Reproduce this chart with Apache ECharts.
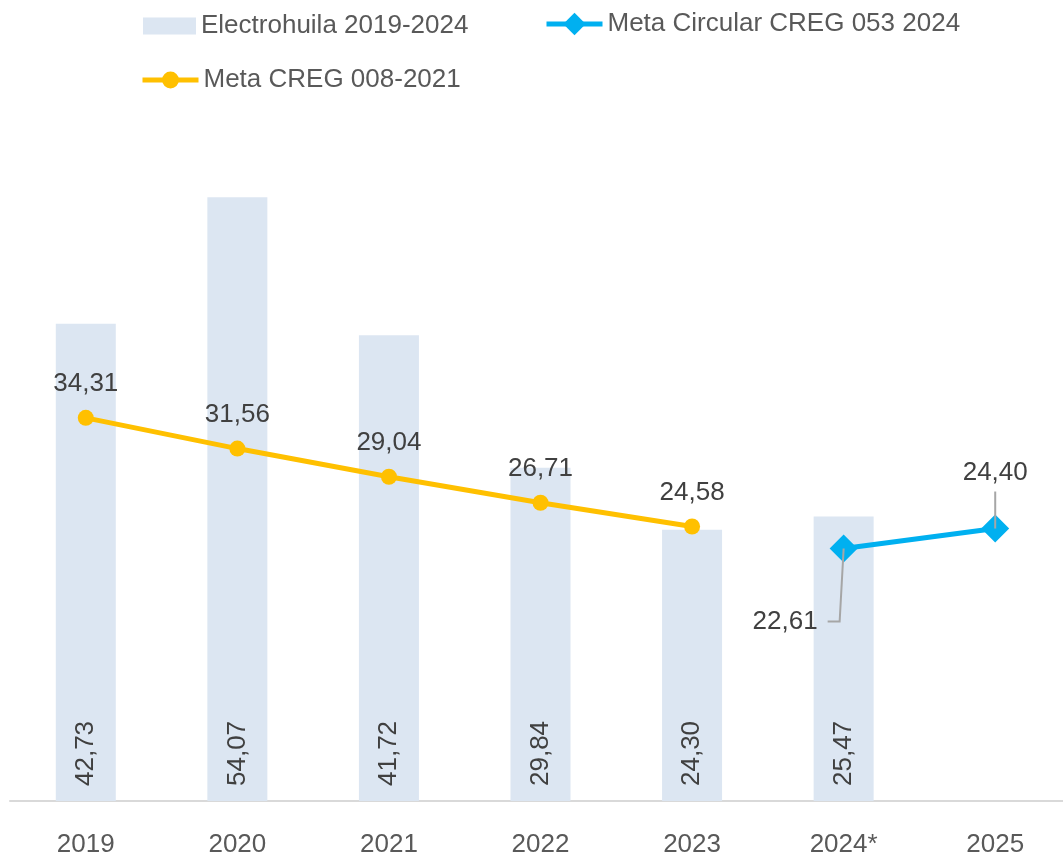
<!DOCTYPE html>
<html>
<head>
<meta charset="utf-8">
<script src="https://cdn.jsdelivr.net/npm/echarts@6/dist/echarts.min.js"></script>
<style>
  html, body { margin: 0; padding: 0; background: #fff; }
  #chart { width: 1063px; height: 858px; }
</style>
</head>
<body>
<div id="chart"></div>
<script>
// data
const years = ['2019', '2020', '2021', '2022', '2023', '2024*', '2025']
const electrohuila = [42.73, 54.07, 41.72, 29.84, 24.30, 25.47, null]
const metaCreg008 = [34.31, 31.56, 29.04, 26.71, 24.58, null, null]
const metaCircular053 = [null, null, null, null, null, 22.61, 24.40]

const FONT = '"Liberation Sans Narrow", "Liberation Sans", sans-serif'
const FS = 26
const fmt = v => v.toFixed(2).replace('.', ',')

const chart = echarts.init(document.getElementById('chart'))

const legendText = { fontFamily: FONT, fontSize: FS, color: '#595959' }

const option = {
    animation: false,
    textStyle: { fontFamily: FONT },
    legend: [
        {
            data: [{ name: 'Electrohuila 2019-2024', icon: 'rect' }],
            left: 138,
            top: 8,
            padding: 5,
            itemWidth: 53,
            itemHeight: 17,
            textStyle: legendText
        },
        {
            data: [{ name: 'Meta Circular CREG 053 2024', lineStyle: { width: 5 } }],
            left: 539,
            top: 6,
            padding: 5,
            itemWidth: 56,
            itemHeight: 28,
            textStyle: legendText
        },
        {
            data: [{ name: 'Meta CREG 008-2021', lineStyle: { width: 5 } }],
            left: 135,
            top: 62,
            padding: 5,
            itemWidth: 56,
            itemHeight: 21,
            textStyle: legendText
        }
    ],
    grid: {
        left: 10,
        right: -8,
        top: 131,
        bottom: 57,
        outerBoundsMode: 'none'
    },
    xAxis: {
        type: 'category',
        data: years,
        axisTick: { show: false },
        axisLine: { lineStyle: { color: '#d9d9d9', width: 2 } },
        axisLabel: { fontFamily: FONT, fontSize: FS, color: '#595959', margin: 31 }
    },
    yAxis: {
        type: 'value',
        min: 0,
        max: 60,
        show: false,
        splitLine: { show: false }
    },
    series: [
        {
            name: 'Electrohuila 2019-2024',
            type: 'bar',
            data: electrohuila,
            barWidth: 60,
            itemStyle: { color: '#dce6f2' },
            label: {
                show: true,
                position: 'insideBottom',
                rotate: 90,
                align: 'left',
                verticalAlign: 'middle',
                distance: 15,
                fontFamily: FONT,
                fontSize: FS,
                color: '#404040',
                formatter: p => fmt(p.value)
            }
        },
        {
            name: 'Meta CREG 008-2021',
            type: 'line',
            data: metaCreg008,
            symbol: 'circle',
            symbolSize: 16,
            lineStyle: { color: '#ffc000', width: 5 },
            itemStyle: { color: '#ffc000' },
            label: {
                show: true,
                position: 'top',
                distance: 13,
                fontFamily: FONT,
                fontSize: FS,
                color: '#404040',
                formatter: p => fmt(p.value)
            }
        },
        {
            name: 'Meta Circular CREG 053 2024',
            type: 'line',
            data: metaCircular053,
            symbol: 'diamond',
            symbolSize: 28,
            lineStyle: { color: '#00b0f0', width: 5 },
            itemStyle: { color: '#00b0f0' },
            label: {
                show: true,
                position: 'top',
                distance: 29,
                fontFamily: FONT,
                fontSize: FS,
                color: '#404040',
                formatter: p => fmt(p.value)
            },
            // 2024* label sits below-left of its point
            labelLayout: function (params) {
                if (params.dataIndex !== 5) return {}
                const r = params.rect
                const cx = r.x + r.width / 2
                const cy = r.y + r.height / 2
                return { x: cx - 26, y: cy + 73, align: 'right', verticalAlign: 'middle' }
            }
        }
    ]
}

chart.setOption(option)

// leader lines from the blue labels to their points
const p5 = chart.convertToPixel({ seriesIndex: 2 }, [5, metaCircular053[5]])
const p6 = chart.convertToPixel({ seriesIndex: 2 }, [6, metaCircular053[6]])
const leader = { stroke: '#a6a6a6', lineWidth: 2, fill: null }
chart.setOption({
    graphic: [
        {
            type: 'polyline',
            z: 10,
            shape: { points: [[p5[0] - 16, p5[1] + 73], [p5[0] - 4, p5[1] + 73], [p5[0], p5[1]]] },
            style: leader
        },
        {
            type: 'line',
            z: 10,
            shape: { x1: p6[0], y1: p6[1] - 37, x2: p6[0], y2: p6[1] },
            style: leader
        }
    ]
})
</script>
</body>
</html>
